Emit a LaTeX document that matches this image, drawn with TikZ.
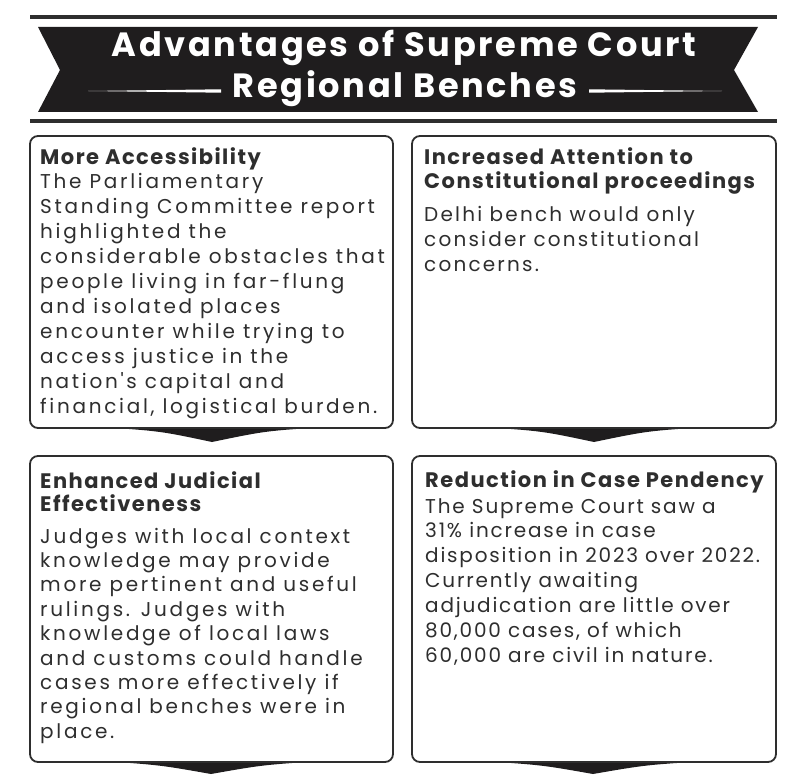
\documentclass[tikz,border=0pt]{standalone}
\usepackage{fontspec}
\setmainfont{Poppins}
\newfontfamily\titlefont[LetterSpace=8]{Poppins}
\newfontfamily\headfont[LetterSpace=7]{Poppins}
\newfontfamily\rightfont[LetterSpace=9]{Poppins}
\newfontfamily\trfont[LetterSpace=11]{Poppins}
\newfontfamily\leftfont[LetterSpace=13.5]{Poppins}
\newcommand\txtlines[1]{\begin{tabular}[t]{@{}l@{}}#1\end{tabular}}
\definecolor{ink}{HTML}{2E2E2E}
\definecolor{ribbon}{HTML}{1F1D1E}
\tikzset{
  boxframe/.style={draw=ink, line width=1.8pt, rounded corners=8pt, fill=white},
  wedge/.style={fill=ribbon, draw=none},
  headtxt/.style={anchor=base west, inner sep=0pt, text=ink,
    font={\headfont\fontsize{21}{23.5}\selectfont\bfseries}},
  rightbody/.style={anchor=base west, inner sep=0pt, text=ink,
    font={\rightfont\fontsize{20}{25}\selectfont}},
  leftbody/.style={anchor=base west, inner sep=0pt, text=ink,
    font={\leftfont\fontsize{20}{25}\selectfont}},
  titletxt/.style={inner sep=0pt, text=white, anchor=base,
    font={\titlefont\fontsize{33.6}{33.6}\selectfont\bfseries}},
  rule/.style={draw=ink, line width=4pt}
}
\begin{document}
\begin{tikzpicture}[x=1pt,y=-1pt]
\useasboundingbox (0,0) rectangle (800,783);
% rules
\coordinate (r1a) at (30,17); \coordinate (r1b) at (777,17);
\coordinate (r2a) at (30,121); \coordinate (r2b) at (777,121);
\draw[rule] (r1a) -- (r1b);
\draw[rule] (r2a) -- (r2b);
% ribbon
\fill[ribbon] (38,27) -- (758,27) -- (734,70) -- (758,112) -- (38,112) -- (60,70) -- cycle;
\node[titletxt] (t1) at (404,57) {Advantages of Supreme Court};
\node[titletxt] (t2) at (405,98) {Regional Benches};
\fill[white] (88,91) -- (221,89.3) -- (221,92.7) -- cycle;
\fill[white] (589,89.3) -- (722,91) -- (589,92.7) -- cycle;
% wedges
\fill[wedge] (100,427) .. controls (160,431) .. (212,442) .. controls (265,431) .. (325,427) -- cycle;
\fill[wedge] (482,427) .. controls (542,431) .. (594,442) .. controls (647,431) .. (707,427) -- cycle;
\fill[wedge] (102,761) .. controls (160,765) .. (211,774) .. controls (262,765) .. (321,761) -- cycle;
\fill[wedge] (482,761) .. controls (542,765) .. (593,774) .. controls (645,765) .. (707,761) -- cycle;
% boxes
\draw[boxframe] (30,136) rectangle (393,428);
\draw[boxframe] (412,136) rectangle (776,428);
\draw[boxframe] (30,456) rectangle (393,762);
\draw[boxframe] (412,456) rectangle (776,762);
% texts
\node[headtxt] (h1) at (40,165) {More Accessibility};
\node[leftbody] (b1) at (40,189) {\txtlines{The Parliamentary\\Standing Committee report\\highlighted the\\considerable obstacles that\\people living in far-flung\\and isolated places\\encounter while trying to\\access justice in the\\nation's capital and\\financial, logistical burden.}};
\node[headtxt] (h2) at (424,165) {\txtlines{Increased Attention to\\Constitutional proceedings}};
\node[rightbody, font={\trfont\fontsize{20}{25}\selectfont}] (b2) at (424,222) {\txtlines{Delhi bench would only\\consider constitutional\\concerns.}};
\node[headtxt] (h3) at (40,488) {\txtlines{Enhanced Judicial\\Effectiveness}};
\node[leftbody, font={\leftfont\fontsize{20}{24.4}\selectfont}] (b3) at (40,543) {\txtlines{Judges with local context\\knowledge may provide\\more pertinent and useful\\rulings. Judges with\\knowledge of local laws\\and customs could handle\\cases more effectively if\\regional benches were in\\place.}};
\node[headtxt] (h4) at (425,487) {Reduction in Case Pendency};
\node[rightbody, font={\rightfont\fontsize{20}{24.85}\selectfont}] (b4) at (425,513) {\txtlines{The Supreme Court saw a\\31\% increase in case\\disposition in 2023 over 2022.\\Currently awaiting\\adjudication are little over\\80,000 cases, of which\\60,000 are civil in nature.}};
\end{tikzpicture}
\end{document}
